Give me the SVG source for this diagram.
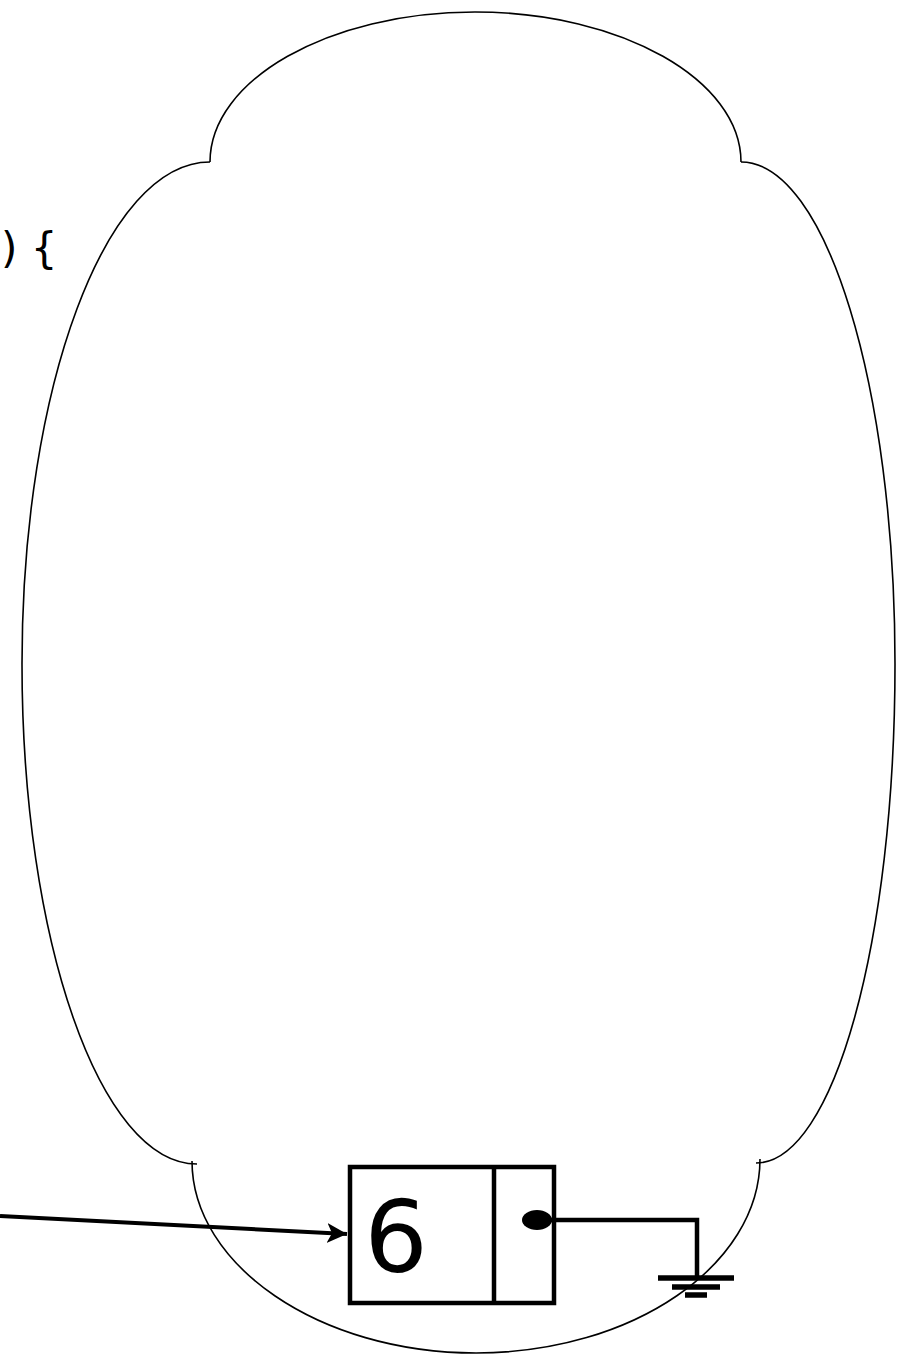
<svg xmlns="http://www.w3.org/2000/svg" width="897" height="1355" viewBox="0 0 897 1355">
<style>
.cloud{fill:none;stroke:#000;stroke-width:1.6}
.box{fill:none;stroke:#000;stroke-width:4.5;stroke-linejoin:miter}
.wire{fill:none;stroke:#000;stroke-width:4.5}
.gnd{fill:none;stroke:#000;stroke-width:5.5}
.lbl{font-family:"DejaVu Sans","Noto Sans",sans-serif;fill:#000}
</style>
<defs>
<marker id="arr" markerUnits="userSpaceOnUse" markerWidth="22" markerHeight="22" refX="20" refY="10" orient="auto" viewBox="0 0 22 22">
<path d="M0,0 L20,10 L0,20 L5,10 z" fill="#000"/>
</marker>
</defs>
<rect width="897" height="1355" fill="#fff"/>
<g id="code-text">
<text class="lbl" x="1" y="263" font-size="42">) {</text>
</g>
<g id="cloud">
<path class="cloud" d="M210,162 C210,80 328.6,12 475,12 C621.4,12 741,80 741,162"/>
<path class="cloud" d="M741,162 C826,162 895,386 895,664 C895,940 834,1163 756,1163"/>
<path class="cloud" d="M760,1159 C760,1265 633,1353 476,1353 C319,1353 192,1265 192,1161"/>
<path class="cloud" d="M197,1164 C100,1164 22,940 22,664 C22,386 106,162 210,162"/>
</g>
<g id="node-6">
<rect class="box" x="350" y="1167" width="204" height="136"/>
<line class="box" x1="494" y1="1167" x2="494" y2="1303"/>
<text class="lbl" x="396" y="1272" font-size="100" text-anchor="middle">6</text>
<ellipse cx="537" cy="1220" rx="15" ry="10" fill="#000"/>
</g>
<g id="ground">
<line class="gnd" x1="658" y1="1278" x2="734" y2="1278"/>
<line class="gnd" x1="672" y1="1287" x2="720" y2="1287"/>
<line class="gnd" x1="685" y1="1295" x2="707" y2="1295"/>
</g>
<g id="connectors">
<polyline class="wire" points="550,1220 697,1220 697,1278"/>
<line stroke="#000" stroke-width="4" x1="0" y1="1216" x2="347" y2="1234" marker-end="url(#arr)"/>
</g>
</svg>
